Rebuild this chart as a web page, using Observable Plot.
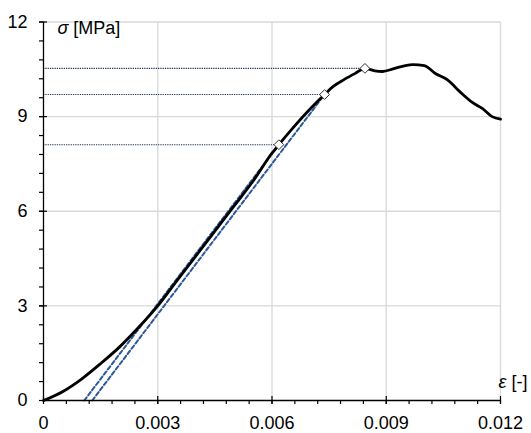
<!DOCTYPE html>
<html>
<head>
<meta charset="utf-8">
<script src="https://cdn.jsdelivr.net/npm/d3@7"></script>
<script src="https://cdn.jsdelivr.net/npm/@observablehq/plot@0.6"></script>
<style>
  html, body { margin: 0; padding: 0; background: white; }
</style>
</head>
<body>
<div id="chart"></div>
<script>
// Stress–strain curve (strain [-], stress [MPa])
const strain = [0, 0.0005, 0.001, 0.0015, 0.002, 0.0025, 0.003, 0.0035, 0.004, 0.0045, 0.005, 0.0055, 0.006, 0.00618, 0.0065, 0.007, 0.00738, 0.0076, 0.0079, 0.0082, 0.00844, 0.0087, 0.0089, 0.0092, 0.0095, 0.0097, 0.0100, 0.0103, 0.0106, 0.01095, 0.01126, 0.01152, 0.01178, 0.0120];
const stress = [0, 0.28, 0.68, 1.17, 1.70, 2.32, 3.00, 3.79, 4.58, 5.37, 6.16, 6.95, 7.84, 8.11, 8.57, 9.24, 9.70, 9.95, 10.18, 10.38, 10.53, 10.45, 10.43, 10.52, 10.62, 10.65, 10.62, 10.36, 10.17, 9.77, 9.45, 9.26, 9.00, 8.92];

// Marked points
const markStrain = [0.00618, 0.00738, 0.00844];
const markStress = [8.11, 9.70, 10.53];

// Dashed tangent lines
const tangentId = ["a", "a", "b", "b"];
const tangentStrain = [0.00107, 0.00618, 0.00128, 0.00738];
const tangentStress = [0, 8.11, 0, 9.70];

// Axis ticks
const xMajor = [0, 0.003, 0.006, 0.009, 0.012];
const xTickLabels = ["0", "0.003", "0.006", "0.009", "0.012"];
const xMinor = [0.0006, 0.0012, 0.0018, 0.0024, 0.003, 0.0036, 0.0042, 0.0048, 0.0054, 0.006, 0.0066, 0.0072, 0.0078, 0.0084, 0.009, 0.0096, 0.0102, 0.0108, 0.0114, 0.012];
const yMajor = [0, 3, 6, 9, 12];
const yTickLabels = ["0", "3", "6", "9", "12"];
const yMinor = [0.6, 1.2, 1.8, 2.4, 3, 3.6, 4.2, 4.8, 5.4, 6, 6.6, 7.2, 7.8, 8.4, 9, 9.6, 10.2, 10.8, 11.4, 12];
const xGrid = [0.003, 0.006, 0.009, 0.012];
const yGrid = [3, 6, 9, 12];
const yTitle = "σ [MPa]";
const xTitle = "ε [-]";

const curve = strain.map((e, i) => ({e, s: stress[i]}));
const markers = markStrain.map((e, i) => ({e, s: markStress[i]}));
const tangents = tangentStrain.map((e, i) => ({e, s: tangentStress[i], id: tangentId[i]}));

const font = "'Liberation Sans', Arial, sans-serif";
const fs = 18;

const chart = Plot.plot({
  width: 531,
  height: 433,
  marginLeft: 43,
  marginRight: 31,
  marginTop: 21.5,
  marginBottom: 33,
  x: {domain: [0, 0.012]},
  y: {domain: [0, 12]},
  style: {fontFamily: font, fontSize: fs + "px", background: "white", color: "black"},
  marks: [
    Plot.gridX(xGrid, {stroke: "#d9d9d9", strokeOpacity: 1, strokeWidth: 1.3}),
    Plot.gridY(yGrid, {stroke: "#d9d9d9", strokeOpacity: 1, strokeWidth: 1.3}),
    Plot.ruleY(markers, {x1: d => 0, x2: "e", y: "s", stroke: "#24365e", strokeWidth: 1.1, strokeDasharray: "1.3,1"}),
    Plot.line(tangents, {x: "e", y: "s", z: "id", stroke: "#2c5898", strokeWidth: 2, strokeDasharray: "4,2.5"}),
    Plot.line(curve, {x: "e", y: "s", stroke: "black", strokeWidth: 2.8, curve: "monotone-x"}),
    Plot.dot(markers, {x: "e", y: "s", symbol: "diamond2", r: 4.4, fill: "white", stroke: "#333", strokeWidth: 1}),
    // axis titles
    Plot.text([{e: 0, s: 12}], {x: "e", y: "s", text: () => yTitle, dx: 14, dy: 6, textAnchor: "start", lineAnchor: "middle", fontSize: fs, fill: "black"}),
    Plot.text([{e: 0.012, s: 0}], {x: "e", y: "s", text: () => xTitle, dx: -2, dy: -18, textAnchor: "start", lineAnchor: "middle", fontSize: fs, fill: "black"}),
    // axes
    Plot.axisX(xMinor, {tickSize: 4, tickFormat: () => "", label: null, stroke: "black", strokeWidth: 1.2}),
    Plot.axisX(xMajor, {tickSize: 8, dy: -4, tickFormat: () => "", label: null, stroke: "black", strokeWidth: 1.2}),
    Plot.axisX(xMajor, {tickSize: 0, tickPadding: 16, tickFormat: d => xTickLabels[xMajor.indexOf(d)], label: null, fontSize: fs}),
    Plot.axisY(yMinor, {tickSize: 4, tickFormat: () => "", label: null, stroke: "black", strokeWidth: 1.2}),
    Plot.axisY(yMajor, {tickSize: 8, dx: 4, tickFormat: () => "", label: null, stroke: "black", strokeWidth: 1.2}),
    Plot.axisY(yMajor, {tickSize: 0, tickPadding: 16, tickFormat: d => yTickLabels[yMajor.indexOf(d)], label: null, fontSize: fs}),
    Plot.ruleY([0], {stroke: "black", strokeWidth: 1.3}),
    Plot.ruleX([0], {stroke: "black", strokeWidth: 1.3})
  ]
});

document.getElementById("chart").appendChild(chart);

// italicise the Greek symbol in each axis title and give the title a white background box
d3.select(chart).selectAll("text").each(function() {
  const t = this.textContent;
  if (t === yTitle || t === xTitle) {
    const sym = t.charAt(0), rest = t.slice(1);
    const el = d3.select(this);
    el.text(null);
    el.append("tspan").attr("font-style", "italic").text(sym);
    el.append("tspan").text(rest);
    const b = this.getBBox();
    const padL = t === yTitle ? 13 : 2, padR = t === yTitle ? 6 : 2;
    d3.select(this.parentNode).insert("rect", () => this)
      .attr("x", b.x - padL).attr("y", b.y - 3)
      .attr("width", b.width + padL + padR).attr("height", b.height + 4)
      .attr("fill", "white");
  }
});
</script>
</body>
</html>
